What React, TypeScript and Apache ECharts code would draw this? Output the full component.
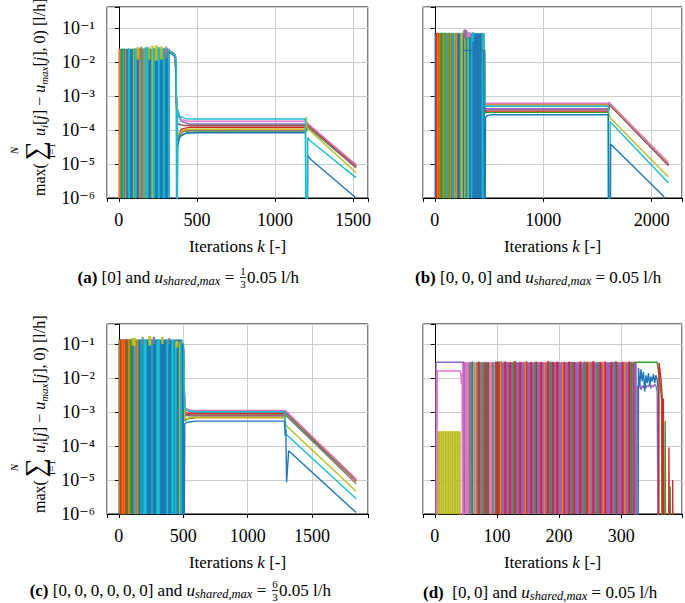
import React, { useEffect, useRef } from 'react';
import * as echarts from 'echarts';

const Z = 1e-9; // a value of 0 lies below the log axis
const COLORS = ['#1f77b4', '#ff7f0e', '#2ca02c', '#d62728', '#9467bd', '#8c564b', '#e377c2', '#7f7f7f', '#bcbd22', '#17becf'];
const FONT = "'Liberation Serif', 'Times New Roman', 'DejaVu Serif', serif";

const X_TICKS_A = [0, 500, 1000, 1500];
const X_TICKS_B = [0, 1000, 2000];
const X_TICKS_C = [0, 500, 1000, 1500];
const X_TICKS_D = [0, 100, 200, 300];
const Y_EXPONENTS = [-6, -5, -4, -3, -2, -1];
const Y_LABELS = ['10⁻⁶', '10⁻⁵', '10⁻⁴', '10⁻³', '10⁻²', '10⁻¹'];

// dense switching phase: [k0, k1, colour, top, bottom?]
const STRIPES_A = [
  [0, 325, 0, 0.024], [0, 10, 1, 0.024], [18, 31, 2, 0.024], [26, 30, 9, 0.025], [40, 43, 1, 0.024],
  [60, 71, 9, 0.025], [92, 98, 8, 0.026], [103, 113, 9, 0.025], [130, 139, 1, 0.026], [145, 150, 9, 0.025],
  [156, 167, 1, 0.025], [167, 188, 9, 0.027], [209, 220, 8, 0.03], [220, 230, 9, 0.026], [251, 262, 9, 0.027],
  [283, 294, 9, 0.026], [315, 321, 9, 0.024],
  [115, 128, 8, 0.027, 0.012], [140, 146, 7, 0.028, 0.013], [190, 200, 8, 0.027, 0.012], [232, 248, 8, 0.03, 0.011],
  [265, 280, 8, 0.028, 0.012], [296, 312, 7, 0.026, 0.013], [300, 305, 6, 0.029, 0.02],
];
const STRIPES_B = [
  [0, 455, 0, 0.07], [10, 42, 3, 0.07], [22, 25, 1, 0.07], [42, 52, 1, 0.07], [52, 100, 2, 0.07], [78, 82, 1, 0.07],
  [100, 110, 9, 0.068], [118, 150, 1, 0.07], [128, 132, 2, 0.07], [160, 170, 9, 0.07], [180, 186, 8, 0.07],
  [195, 205, 1, 0.07], [238, 314, 8, 0.07], [260, 264, 0, 0.07], [286, 290, 0, 0.072], [300, 304, 9, 0.07],
  [335, 345, 9, 0.07], [434, 455, 9, 0.066],
  [262, 300, 7, 0.085, 0.05], [275, 280, 4, 0.09, 0.05], [300, 330, 6, 0.075, 0.055], [345, 360, 9, 0.075, 0.04],
];
const STRIPES_C = [
  [0, 492, 0, 0.134], [0, 5, 2, 0.13], [5, 10, 1, 0.13], [10, 73, 3, 0.134], [22, 25, 1, 0.134], [38, 41, 1, 0.134],
  [58, 61, 2, 0.134], [73, 86, 1, 0.134], [86, 99, 2, 0.134], [116, 120, 1, 0.134], [124, 128, 9, 0.134],
  [138, 150, 1, 0.134], [170, 174, 9, 0.14], [189, 215, 9, 0.134], [253, 260, 9, 0.14], [292, 318, 9, 0.134],
  [369, 382, 9, 0.134], [408, 425, 9, 0.13], [435, 447, 9, 0.125], [467, 470, 8, 0.11], [477, 492, 9, 0.11],
  [492, 505, 0, 0.1],
  [100, 130, 8, 0.15, 0.09], [180, 190, 7, 0.16, 0.1], [230, 250, 8, 0.17, 0.09], [265, 280, 4, 0.16, 0.1],
  [330, 345, 8, 0.16, 0.1], [385, 395, 7, 0.15, 0.1], [440, 460, 8, 0.12, 0.08],
];
const STRIPES_D = [
  [5, 8.3, 8, 2.6e-4], [8.9, 12, 8, 2.6e-4], [12.6, 15.7, 8, 2.6e-4], [16.3, 19.4, 8, 2.6e-4], [20, 23.1, 8, 2.6e-4],
  [23.7, 26.8, 8, 2.6e-4], [27.4, 30.5, 8, 2.6e-4], [31.1, 34.2, 8, 2.6e-4], [34.8, 37.9, 8, 2.6e-4], [38.5, 40.5, 8, 2.6e-4],
  [44, 58, 6, 0.029], [55, 60, 7, 0.029], [60, 62, 0, 0.03], [63, 65, 1, 0.029], [66, 78, 7, 0.029], [70, 72, 3, 0.03],
  [78, 88, 5, 0.029], [88, 92, 6, 0.029], [92, 96, 7, 0.029], [97, 108, 5, 0.03], [100, 102, 3, 0.029],
  [108, 325, 4, 0.029],
  [112, 114.5, 3, 0.03], [120, 122.5, 3, 0.029], [128, 130.5, 3, 0.031], [136, 138.5, 3, 0.029], [146, 148.5, 3, 0.03],
  [154, 156.5, 3, 0.029], [162, 164.5, 3, 0.03], [170, 172.5, 3, 0.029], [181, 183.5, 3, 0.031], [189, 191.5, 3, 0.029],
  [196, 198.5, 3, 0.03], [207, 209.5, 3, 0.029], [215, 217.5, 3, 0.03], [223, 225.5, 3, 0.029], [233, 235.5, 3, 0.03],
  [244, 246.5, 3, 0.029], [254, 256.5, 3, 0.031], [265, 267.5, 3, 0.029], [273, 275.5, 3, 0.03], [283, 285.5, 3, 0.029],
  [291, 293.5, 3, 0.03], [301, 303.5, 3, 0.029], [312, 314.5, 3, 0.03], [320, 322.5, 3, 0.029],
  [126, 127.2, 2, 0.03], [161, 162.2, 2, 0.029], [186, 187.2, 2, 0.03], [220, 221.2, 2, 0.029], [240, 241.2, 2, 0.03],
  [261, 262.2, 2, 0.029], [290, 291.2, 2, 0.03], [316, 317.2, 2, 0.029],
  [105, 106, 1, 0.029], [145, 146, 1, 0.03], [176, 177, 1, 0.029], [205, 206, 1, 0.029], [248, 249, 1, 0.03],
  [271, 272, 1, 0.029], [305, 306, 1, 0.029],
];

// agent curves after the switching phase: [k, value]
const LINES_A = [
  { c: 1, pts: [[318, 0.022], [345, 0.018], [362, 0.014], [368, 1e-3], [376, 6e-5], [390, 8e-5], [430, 9.6e-5], [500, 1e-4], [1198, 1e-4], [1210, 1.3e-4], [1520, 8e-6]] },
  { c: 2, pts: [[318, 0.022], [345, 0.018], [362, 0.014], [368, 1e-3], [376, 4e-5], [392, 6.5e-5], [440, 8.5e-5], [520, 8.8e-5], [1198, 8.8e-5], [1210, 1.2e-4], [1520, 8e-6]] },
  { c: 3, pts: [[318, 0.022], [345, 0.018], [362, 0.014], [368, 1e-3], [376, 5.5e-5], [400, 1.05e-4], [450, 1.2e-4], [1198, 1.2e-4], [1210, 1.4e-4], [1520, 8.5e-6]] },
  { c: 4, pts: [[318, 0.022], [345, 0.018], [362, 0.014], [368, 1e-3], [376, 3e-4], [400, 1.8e-4], [450, 1.5e-4], [1198, 1.5e-4], [1210, 1.5e-4], [1520, 9.5e-6]] },
  { c: 5, pts: [[318, 0.022], [345, 0.019], [362, 0.015], [368, 1e-3], [376, 1.5e-4], [420, 1.35e-4], [1198, 1.35e-4], [1210, 1.45e-4], [1520, 9e-6]] },
  { c: 6, pts: [[318, 0.022], [345, 0.018], [362, 0.014], [368, 1e-3], [376, 3.5e-4], [400, 2e-4], [450, 1.8e-4], [1198, 1.8e-4], [1210, 1.55e-4], [1520, 9.2e-6]] },
  { c: 7, pts: [[318, 0.021], [345, 0.019], [362, 0.016], [368, 1e-3], [376, 6e-5], [410, 9e-5], [460, 9.5e-5], [1198, 9.5e-5], [1210, 1.25e-4], [1520, 7.6e-6]] },
  { c: 8, pts: [[318, 0.022], [345, 0.018], [362, 0.014], [368, 1e-3], [376, 7e-5], [420, 1.05e-4], [1195, 1.1e-4], [1200, 2.4e-4], [1204, 1.2e-4], [1215, 1.05e-4], [1520, 5.5e-6]] },
  { c: 0, pts: [[318, 0.02], [340, 0.017], [362, 0.014], [368, 1e-3], [371, Z], [374, Z], [377, 3e-5], [385, 5.5e-5], [400, 7e-5], [430, 8e-5], [500, 8.3e-5], [1196, 8.3e-5], [1200, Z], [1206, Z], [1210, 1.8e-5], [1230, 1.35e-5], [1520, 1e-6]] },
  { c: 9, pts: [[318, 0.024], [330, 0.02], [350, 0.017], [362, 0.015], [366, 0.01], [370, 5e-4], [372, Z], [374, Z], [376, 4e-4], [390, 2.5e-4], [430, 2.15e-4], [480, 2.1e-4], [1195, 2.1e-4], [1198, Z], [1206, Z], [1210, 6e-5], [1222, 5e-5], [1520, 3.9e-6]] },
];
const LINES_B = [
  { c: 2, pts: [[452, 0.065], [458, 0.02], [463, 3.2e-4], [480, 3.3e-4], [1600, 3.3e-4], [1612, 5.4e-4], [2154, 9.5e-6]] },
  { c: 3, pts: [[452, 0.065], [458, 0.02], [463, 3.5e-4], [480, 3.6e-4], [1600, 3.6e-4], [1612, 5.6e-4], [2154, 9e-6]] },
  { c: 5, pts: [[452, 0.065], [458, 0.02], [463, 3.8e-4], [480, 3.9e-4], [1600, 3.9e-4], [1612, 5.6e-4], [2154, 9.2e-6]] },
  { c: 4, pts: [[452, 0.065], [458, 0.02], [463, 4.3e-4], [480, 4.2e-4], [1600, 4.2e-4], [1612, 5.8e-4], [2154, 1e-5]] },
  { c: 7, pts: [[452, 0.065], [458, 0.02], [463, 5.6e-4], [480, 5.5e-4], [1600, 5.5e-4], [1612, 5.9e-4], [2154, 9.6e-6]] },
  { c: 1, pts: [[452, 0.065], [458, 0.02], [463, 6e-4], [480, 5.9e-4], [1600, 5.9e-4], [1606, 6.5e-4], [1614, 6e-4], [2154, 1.1e-5]] },
  { c: 6, pts: [[452, 0.065], [458, 0.02], [463, 6.3e-4], [480, 6.1e-4], [1600, 6.1e-4], [1606, 6.6e-4], [1614, 6.1e-4], [2154, 1.05e-5]] },
  { c: 8, pts: [[452, 0.065], [458, 0.02], [463, 5.2e-4], [480, 5.1e-4], [1600, 5.1e-4], [1606, 3e-4], [1620, 2.2e-4], [2154, 4.2e-6]] },
  { c: 9, pts: [[452, 0.066], [458, 0.02], [463, 5e-4], [480, 5e-4], [1600, 5e-4], [1603, Z], [1612, Z], [1618, 1.8e-4], [1628, 1.6e-4], [2154, 2.8e-6]] },
  { c: 0, pts: [[254, 0.022], [452, 0.022], [458, 0.022], [461, Z], [465, Z], [468, 2.4e-4], [490, 2.7e-4], [520, 2.8e-4], [1600, 2.8e-4], [1604, Z], [1618, Z], [1622, 3.9e-5], [1640, 3.4e-5], [2112, 1.1e-6], [2118, Z]] },
];
const LINES_C = [
  { c: 1, pts: [[480, 0.12], [500, 0.1], [506, 0.01], [512, 6e-4], [540, 6.4e-4], [600, 6.7e-4], [1285, 6.7e-4], [1295, 8e-4], [1842, 9e-6]] },
  { c: 2, pts: [[480, 0.12], [500, 0.1], [506, 0.01], [512, 5.5e-4], [540, 6.5e-4], [600, 7e-4], [1285, 7e-4], [1295, 8.5e-4], [1842, 9.5e-6]] },
  { c: 3, pts: [[480, 0.12], [500, 0.1], [506, 0.01], [512, 9.5e-4], [560, 9e-4], [1285, 9e-4], [1295, 1.05e-3], [1842, 1.05e-5]] },
  { c: 4, pts: [[480, 0.12], [500, 0.1], [506, 0.01], [512, 8e-4], [560, 7.6e-4], [1285, 7.6e-4], [1295, 9.8e-4], [1842, 1e-5]] },
  { c: 5, pts: [[480, 0.12], [500, 0.1], [506, 0.01], [512, 8.5e-4], [560, 8.2e-4], [1285, 8.2e-4], [1295, 1e-3], [1842, 9.8e-6]] },
  { c: 7, pts: [[480, 0.12], [500, 0.1], [506, 0.01], [512, 1.2e-3], [560, 1e-3], [1285, 1e-3], [1295, 8e-4], [1842, 7.8e-6]] },
  { c: 6, pts: [[480, 0.12], [500, 0.1], [506, 0.01], [512, 1.3e-3], [560, 1.12e-3], [1285, 1.12e-3], [1295, 1.08e-3], [1842, 1e-5]] },
  { c: 8, pts: [[480, 0.12], [500, 0.1], [506, 0.01], [512, 6e-4], [560, 7e-4], [1285, 7e-4], [1298, 4e-4], [1842, 4.7e-6]] },
  { c: 9, pts: [[480, 0.12], [500, 0.1], [506, 0.03], [510, 1.5e-3], [530, 1.1e-3], [600, 1.02e-3], [1288, 1.02e-3], [1298, 2.2e-4], [1842, 2.8e-6]] },
  { c: 0, pts: [[495, 0.1], [503, Z], [508, Z], [512, 4.5e-4], [530, 5e-4], [600, 5.4e-4], [1285, 5.4e-4], [1292, 2e-4], [1296, 3e-4], [1302, 8.6e-6], [1318, 7.2e-5], [1842, 1.1e-6]] },
];
const LINES_D = [
  { c: 8, pts: [[4, Z], [5, 2.6e-4], [40.5, 2.6e-4], [41, Z]] },
  { c: 4, pts: [[1.5, Z], [2, 0.029], [47, 0.029], [48, Z]] },
  { c: 6, pts: [[3.5, Z], [4, 0.016], [41, 0.016], [42, 0.011], [43, 0.0065], [44, 0.014], [45, Z]] },
  { c: 4, pts: [[322, 0.029], [323, Z], [325, Z], [326, 0.006], [328, 0.005], [330, 0.0065], [332, 0.0045], [334, 0.006], [336, 0.005], [338, 0.0068], [340, 0.005], [342, 0.006], [344, 0.0055], [346, 0.0068], [348, 0.005], [350, 0.0062], [352, 0.0055], [354, 0.0065], [356, 0.006], [358, 0.004], [360, Z]] },
  { c: 0, pts: [[324, Z], [327, Z], [328, 0.02], [330, 0.006], [332, 0.018], [334, 0.008], [336, 0.015], [338, 0.004], [340, 0.012], [342, 0.007], [344, 0.014], [346, 0.006], [348, 0.011], [350, 0.008], [352, 0.013], [354, 0.007], [356, 0.012], [358, 0.009], [360, 0.004], [361, Z]] },
  { c: 2, pts: [[322, 0.029], [358, 0.029], [362, 0.009], [365, 0.0024], [366, Z], [370, Z], [371, 5.4e-4], [372, Z], [378, Z], [379, 6.6e-6], [380, Z]] },
  { c: 3, pts: [[360, Z], [361, 0.028], [364, 0.01], [366, 0.003], [367, Z], [368, 0.0025], [369, Z], [376, Z], [377, 9e-5], [378, Z], [382, Z], [383, 1e-5], [384, Z]] },
];

const TS = '\u2009';
const CAPTION_A = ['{b|(a)}{n| [0] and }{it|u}{sb|shared,max}{n| = }', '1', '3', '{n|0.05 l/h}'];
const CAPTION_B = `{b|(b)}{n| [0,${TS}0,${TS}0] and }{it|u}{sb|shared,max}{n| = 0.05 l/h}`;
const CAPTION_C = [`{b|(c)}{n| [0,${TS}0,${TS}0,${TS}0,${TS}0,${TS}0] and }{it|u}{sb|shared,max}{n| = }`, '6', '3', '{n|0.05 l/h}'];
const CAPTION_D = `{b|(d)}{n|  [0,${TS}0] and }{it|u}{sb|shared,max}{n| = 0.05 l/h}`;
const X_NAME = 'Iterations {i|k} [-]';

const GRIDS = [
  { left: 107, top: 7, width: 261, height: 191 },
  { left: 423, top: 7, width: 264, height: 191 },
  { left: 107, top: 324, width: 261, height: 190 },
  { left: 423, top: 324, width: 264, height: 190 },
];

const capRich = {
  b: { fontFamily: FONT, fontSize: 17, fontWeight: 'bold', lineHeight: 20, color: '#000' },
  n: { fontFamily: FONT, fontSize: 17, lineHeight: 20, color: '#000' },
  it: { fontFamily: FONT, fontSize: 17, fontStyle: 'italic', lineHeight: 20, color: '#000' },
  sb: { fontFamily: FONT, fontSize: 12.5, fontStyle: 'italic', lineHeight: 12, verticalAlign: 'bottom', color: '#000' },
};

function stripeSeries(gi: number, stripes: number[][]) {
  return {
    type: 'custom', xAxisIndex: gi, yAxisIndex: gi, silent: true, z: 1,
    data: stripes.map((s) => [s[0], s[1], s[3], s.length > 4 ? s[4] : Z, s[2]]),
    encode: { x: [0, 1], y: [2, 3] },
    renderItem: (params: any, api: any) => {
      const p0 = api.coord([api.value(0), api.value(2)]);
      const p1 = api.coord([api.value(1), api.value(3)]);
      const cs = params.coordSys;
      const rect = echarts.graphic.clipRectByRect(
        { x: p0[0], y: p0[1], width: Math.max(p1[0] - p0[0], 1), height: p1[1] - p0[1] },
        { x: cs.x, y: cs.y, width: cs.width, height: cs.height }
      );
      if (!rect) return null;
      const col = COLORS[api.value(4)];
      return { type: 'rect', shape: rect, style: { fill: col, stroke: col, lineWidth: 0.4 } };
    },
  };
}

function lineSeries(gi: number, lines: { c: number; pts: number[][] }[]) {
  return lines.map((l) => ({
    type: 'line', xAxisIndex: gi, yAxisIndex: gi, data: l.pts, showSymbol: false, symbol: 'none',
    silent: true, z: 2, clip: true,
    lineStyle: { color: COLORS[l.c], width: 1.4 }, itemStyle: { color: COLORS[l.c] },
  }));
}

function xAxis(gi: number, min: number, max: number, split: number, ticks: number[]) {
  return {
    type: 'value', gridIndex: gi, min, max, splitNumber: split,
    axisLine: { show: true, onZero: false, lineStyle: { color: '#000', width: 1 } },
    axisTick: { show: true, length: 4, lineStyle: { color: '#000' } },
    axisLabel: {
      margin: 13, fontSize: 18, fontFamily: FONT, color: '#000',
      formatter: (v: number) => (ticks.some((t) => Math.abs(t - v) < 1e-6) ? String(Math.round(v)) : ''),
    },
    splitLine: { show: true, lineStyle: { color: '#cccccc', width: 1 } },
    name: X_NAME, nameLocation: 'middle', nameGap: 40,
    nameTextStyle: {
      fontFamily: FONT, fontSize: 17, color: '#000',
      rich: { i: { fontFamily: FONT, fontSize: 17, fontStyle: 'italic', color: '#000' } },
    },
  };
}

function yAxis(gi: number, max: number, showLabel: boolean) {
  return {
    type: 'log', logBase: 10, gridIndex: gi, min: 1e-6, max,
    axisLine: { show: true, lineStyle: { color: '#000', width: 1 } },
    axisTick: { show: true, length: 4, lineStyle: { color: '#000' } },
    axisLabel: {
      show: showLabel, margin: 12, color: '#000', fontFamily: FONT, fontSize: 18, align: 'right',
      formatter: (v: number) => {
        const e = Math.log10(v);
        const r = Math.round(e);
        const i = Y_EXPONENTS.indexOf(r);
        if (Math.abs(e - r) > 1e-6 || i < 0) return '';
        return Y_LABELS[i];
      },
    },
    splitLine: { show: true, lineStyle: { color: '#cccccc', width: 1 } },
  };
}

function yTitle(off: number) {
  const R = Math.PI / 2;
  const base = { fontFamily: FONT, fontSize: 16, lineHeight: 20, color: '#000' };
  return [
    { type: 'text', x: 39, y: 196 + off, rotation: R, style: { text: 'max(', font: `16px ${FONT}`, align: 'left', verticalAlign: 'middle', fill: '#000' } },
    { type: 'text', x: 35, y: 150.5 + off, rotation: R, style: { text: '∑', font: `27px ${FONT}`, align: 'center', verticalAlign: 'middle', fill: '#000' } },
    { type: 'text', x: 14, y: 150.5 + off, rotation: R, style: { text: 'N', font: `italic 11px ${FONT}`, align: 'center', verticalAlign: 'middle', fill: '#000' } },
    { type: 'text', x: 51, y: 150.5 + off, rotation: R, style: { text: 'i=1', font: `11px ${FONT}`, align: 'center', verticalAlign: 'middle', fill: '#000' } },
    {
      type: 'text', x: 39, y: 136 + off, rotation: R,
      style: {
        text: '{it|u}{sb|i}{r|[}{it|j}{r|] − }{it|u}{sb|max}{r|[}{it|j}{r|], 0) [l/h]}',
        align: 'left', verticalAlign: 'middle', fill: '#000',
        rich: {
          r: base,
          it: { ...base, fontStyle: 'italic' },
          sb: { fontFamily: FONT, fontSize: 11, lineHeight: 11, fontStyle: 'italic', verticalAlign: 'bottom', color: '#000' },
        },
      },
    },
  ];
}

function fraction(cx: number, cy: number, num: string, den: string) {
  return [
    { type: 'text', x: cx, y: cy - 6, style: { text: num, font: `11px ${FONT}`, align: 'center', verticalAlign: 'middle', fill: '#000' } },
    { type: 'line', shape: { x1: cx - 3, y1: cy + 0.5, x2: cx + 3, y2: cy + 0.5 }, style: { stroke: '#000', lineWidth: 0.8 } },
    { type: 'text', x: cx, y: cy + 7, style: { text: den, font: `11px ${FONT}`, align: 'center', verticalAlign: 'middle', fill: '#000' } },
  ];
}

function captionText(x: number, y: number, text: string, align: string) {
  return { type: 'text', x, y, style: { text, align, verticalAlign: 'middle', rich: capRich, fill: '#000' } };
}

export default function App() {
  const ref = useRef<HTMLDivElement>(null);
  useEffect(() => {
    if (!ref.current) return;
    const chart = echarts.init(ref.current, undefined, { renderer: 'svg' });
    const maxTop = Math.pow(10, -6 + 191 / 34);
    const maxBot = Math.pow(10, -6 + 190 / 34);
    chart.setOption({
      animation: false,
      backgroundColor: '#fff',
      grid: GRIDS.map((g) => ({ ...g, show: true, borderColor: '#000', borderWidth: 1, backgroundColor: 'transparent', containLabel: false })),
      xAxis: [
        xAxis(0, -76, 1596, 3, X_TICKS_A),
        xAxis(1, -108.6, 2280, 2, X_TICKS_B),
        xAxis(2, -92, 1934, 4, X_TICKS_C),
        xAxis(3, -19, 398, 4, X_TICKS_D),
      ],
      yAxis: [yAxis(0, maxTop, true), yAxis(1, maxTop, false), yAxis(2, maxBot, true), yAxis(3, maxBot, false)],
      series: [
        stripeSeries(0, STRIPES_A), ...lineSeries(0, LINES_A),
        stripeSeries(1, STRIPES_B), ...lineSeries(1, LINES_B),
        stripeSeries(2, STRIPES_C), ...lineSeries(2, LINES_C),
        stripeSeries(3, STRIPES_D), ...lineSeries(3, LINES_D),
      ],
      graphic: [
        ...yTitle(0), ...yTitle(317),
        captionText(238.5, 277, CAPTION_A[0], 'right'), ...fraction(243, 277, CAPTION_A[1], CAPTION_A[2]), captionText(247, 277, CAPTION_A[3], 'left'),
        captionText(415, 277, CAPTION_B, 'left'),
        captionText(270.5, 590, CAPTION_C[0], 'right'), ...fraction(275, 590, CAPTION_C[1], CAPTION_C[2]), captionText(279, 590, CAPTION_C[3], 'left'),
        captionText(423, 592, CAPTION_D, 'left'),
      ],
    });
    return () => chart.dispose();
  }, []);
  return <div ref={ref} style={{ position: 'fixed', left: 0, top: 0, width: 685, height: 603 }} />;
}
